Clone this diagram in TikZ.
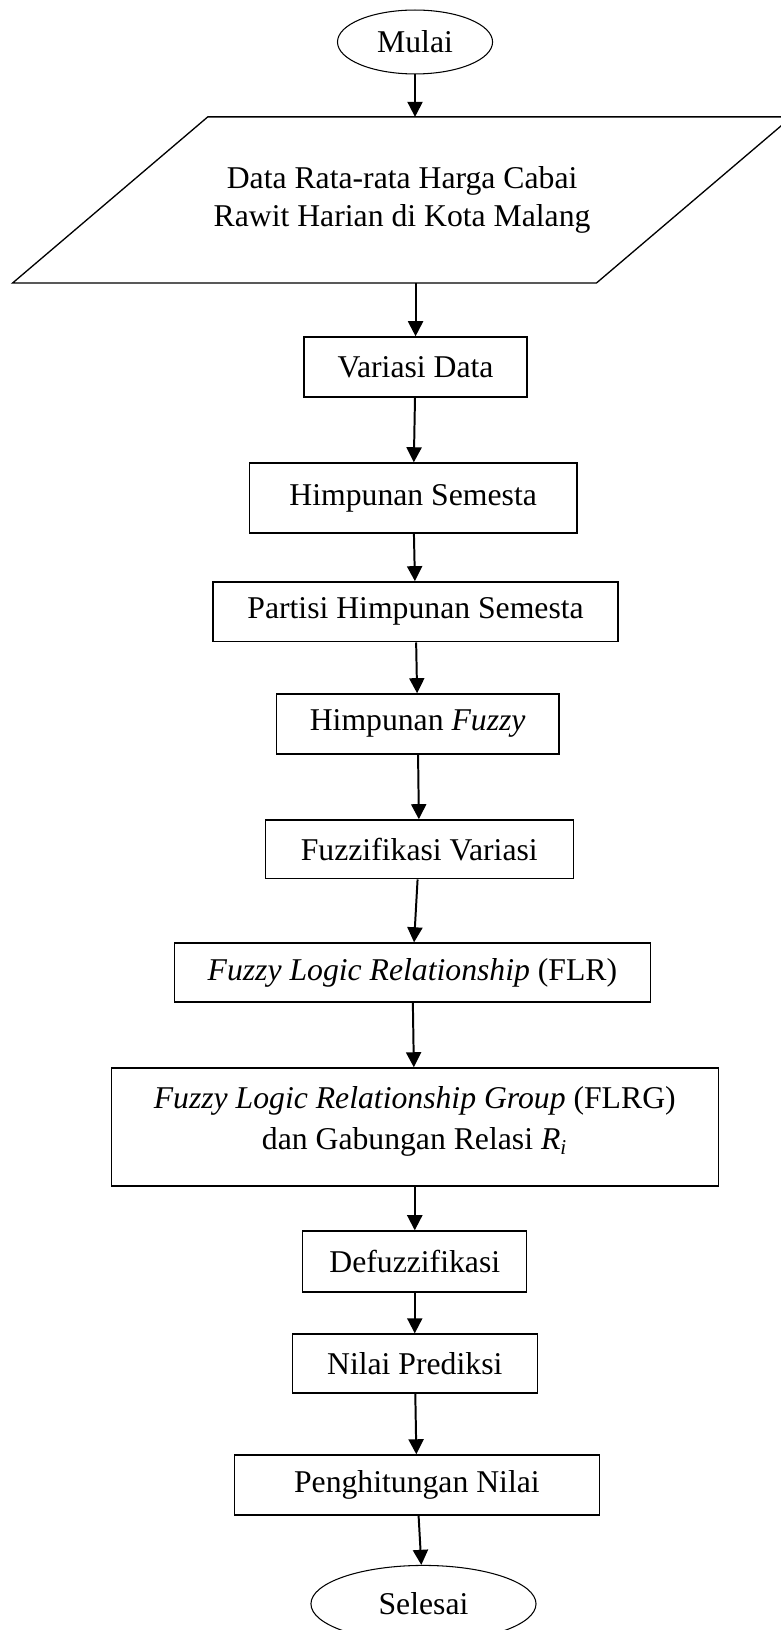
\documentclass[tikz,border=0pt]{standalone}
\usepackage{fontspec}
\setmainfont{Liberation Serif}
\usepackage{tikz}
\usetikzlibrary{shapes.geometric, arrows.meta}
\tikzstyle{startstop} = [ellipse, draw=black, line width=0.4pt, inner sep=0pt, text centered]
\tikzstyle{io} = [rectangle, minimum width=294.5pt, minimum height=62.5pt, inner sep=0pt, text centered, align=center]
\tikzstyle{process} = [rectangle, minimum height=22.7pt, inner sep=0pt, text centered, align=center, draw=black, line width=0.5pt]
\tikzstyle{arrow} = [line width=0.75pt, -{Triangle[length=5.7pt,width=5.7pt]}]

\begin{document}
\begin{tikzpicture}[node distance=45pt, font=\fontsize{12pt}{14.4pt}\selectfont]
\useasboundingbox (-157.1pt,15.9pt) rectangle (138.2pt,-601.1pt);
\node (mulai) [startstop, minimum width=58.7pt, minimum height=24.2pt] {Mulai};
\node (data) [io, below of=mulai, yshift=-14.8pt, xshift=-4.9pt] {Data Rata-rata Harga Cabai\\ Rawit Harian di Kota Malang};
\node (variasi) [process, below of=data, yshift=-18.2pt, xshift=5.1pt, minimum width=84.4pt] {Variasi Data};
\node (semesta) [process, below of=variasi, yshift=-4.6pt, xshift=-0.9pt, minimum width=124.1pt, minimum height=26.5pt] {Himpunan Semesta};
\node (partisi) [process, below of=semesta, yshift=1.9pt, xshift=0.9pt, minimum width=153.3pt] {Partisi Himpunan Semesta};
\node (himfuzzy) [process, below of=partisi, yshift=2.6pt, xshift=0.8pt, minimum width=107.1pt] {Himpunan \textit{Fuzzy}};
\node (fuzzifikasi) [process, below of=himfuzzy, yshift=-2.5pt, xshift=0.6pt, minimum width=116.6pt, minimum height=22.3pt] {Fuzzifikasi Variasi};
\node (flr) [process, below of=fuzzifikasi, yshift=-1.6pt, xshift=-2.6pt, minimum width=180.2pt, minimum height=22.3pt] {\textit{Fuzzy Logic Relationship} (FLR)};
\node (flrg) [process, below of=flr, yshift=-13.5pt, xshift=0.9pt, minimum width=229.7pt, minimum height=44.7pt, font=\fontsize{12pt}{15.5pt}\selectfont] {\textit{Fuzzy Logic Relationship Group} (FLRG)\\ dan Gabungan Relasi \textit{R}\textsubscript{\textit{i}}\\[-9pt]\mbox{}};
\node (defuzz) [process, below of=flrg, yshift=-5.9pt, minimum width=84.8pt, minimum height=23.1pt] {Defuzzifikasi};
\node (prediksi) [process, below of=defuzz, yshift=6.4pt, minimum width=92.7pt, minimum height=22.3pt] {Nilai Prediksi};
\node (hitung) [process, below of=prediksi, yshift=-1pt, xshift=0.8pt, minimum width=138.2pt] {Penghitungan Nilai};
\node (selesai) [startstop, below of=hitung, xshift=2.5pt, minimum width=85.2pt, minimum height=29.1pt] {Selesai};

% parallelogram round the input data
\draw [line width=0.5pt] (data.south west) -- ++(221pt,0) -- (data.north east) -- ++(-221pt,0) -- cycle;

\draw [arrow] (mulai) -- (data.north -| mulai);
\draw [arrow] (data.south -| variasi) -- (variasi);
\draw [arrow] (variasi) -- (semesta);
\draw [arrow] (semesta) -- (partisi);
\draw [arrow] (partisi) -- (himfuzzy);
\draw [arrow] (himfuzzy) -- (fuzzifikasi);
\draw [arrow] (fuzzifikasi) -- (flr);
\draw [arrow] (flr) -- (flrg);
\draw [arrow] (flrg) -- (defuzz);
\draw [arrow] (defuzz) -- (prediksi);
\draw [arrow] (prediksi) -- (hitung);
\draw [arrow] (hitung) -- (selesai);
\end{tikzpicture}
\end{document}
